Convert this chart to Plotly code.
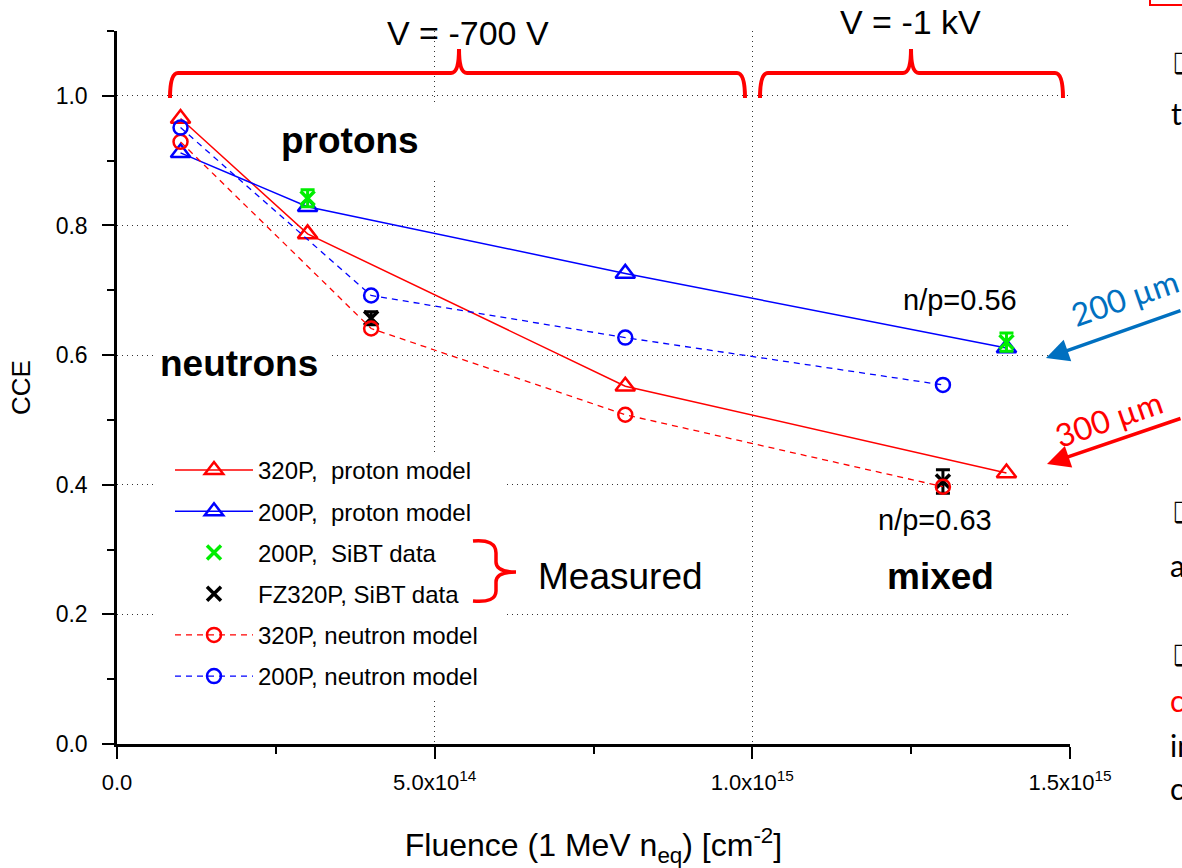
import plotly.graph_objects as go

# ---------------- data ----------------
fluence_proton = [1e14, 3e14, 8e14, 1.4e15]
cce_320p_proton = [0.965, 0.787, 0.552, 0.418]
cce_200p_proton = [0.912, 0.829, 0.726, 0.611]

fluence_neutron = [1e14, 4e14, 8e14, 1.3e15]
cce_320p_neutron = [0.929, 0.641, 0.508, 0.397]
cce_200p_neutron = [0.951, 0.692, 0.627, 0.554]

fluence_sibt_200 = [3e14, 1.4e15]
cce_sibt_200 = [0.842, 0.620]
err_sibt_200 = [0.013, 0.014]

fluence_sibt_320 = [4e14, 1.3e15]
cce_sibt_320 = [0.657, 0.405]
err_sibt_320 = [0.010, 0.018]

x_tickvals = [0, 5e14, 1e15, 1.5e15]
x_ticktext = ["0.0", "5.0x10<sup>14</sup>", "1.0x10<sup>15</sup>", "1.5x10<sup>15</sup>"]
y_tickvals = [0.0, 0.2, 0.4, 0.6, 0.8, 1.0]
y_ticktext = ["0.0", "0.2", "0.4", "0.6", "0.8", "1.0"]

# ---------------- geometry helpers ----------------
W, H = 1182, 868
L, R, T, B = 117, 1070, 31, 744
XMAX, YMAX = 1.5e15, 1.1


def dx(px):
    return (px - L) / (R - L) * XMAX


def dy(py):
    return (B - py) / (B - T) * YMAX


def ppx(px):
    return (px - L) / (R - L)


def ppy(py):
    return (B - py) / (B - T)


FONT = "Liberation Sans, Arial, sans-serif"
SLIDE = "Lato, Open Sans, sans-serif"
RED = "#ff0000"
BLUE = "#0000ff"
GREEN = "#00ee00"
SLIDE_BLUE = "#0070c0"

fig = go.Figure()

fig.add_trace(go.Scatter(
    x=fluence_proton, y=cce_320p_proton, mode="lines+markers",
    name="320P,  proton model", legendgroup="a",
    line=dict(color=RED, width=1.5),
    marker=dict(symbol="triangle-up-open", size=17, color=RED, line=dict(width=2.5, color=RED))))
fig.add_trace(go.Scatter(
    x=fluence_proton, y=cce_200p_proton, mode="lines+markers",
    name="200P,  proton model", legendgroup="b",
    line=dict(color=BLUE, width=1.5),
    marker=dict(symbol="triangle-up-open", size=17, color=BLUE, line=dict(width=2.5, color=BLUE))))
fig.add_trace(go.Scatter(
    x=fluence_sibt_200, y=cce_sibt_200, mode="markers",
    name="200P,  SiBT data", legendgroup="c",
    error_y=dict(type="data", array=err_sibt_200, color=GREEN, thickness=3, width=7),
    marker=dict(symbol="x-thin", size=14, color=GREEN, line=dict(width=3.5, color=GREEN))))
fig.add_trace(go.Scatter(
    x=fluence_sibt_320, y=cce_sibt_320, mode="markers",
    name="FZ320P, SiBT data", legendgroup="d",
    error_y=dict(type="data", array=err_sibt_320, color="black", thickness=3, width=7),
    marker=dict(symbol="x-thin", size=14, color="black", line=dict(width=3.5, color="black"))))
fig.add_trace(go.Scatter(
    x=fluence_neutron, y=cce_320p_neutron, mode="lines+markers",
    name="320P, neutron model", legendgroup="e",
    line=dict(color=RED, width=1.3, dash="6px,5px"),
    marker=dict(symbol="circle-open", size=14, color=RED, line=dict(width=2.5, color=RED))))
fig.add_trace(go.Scatter(
    x=fluence_neutron, y=cce_200p_neutron, mode="lines+markers",
    name="200P, neutron model", legendgroup="f",
    line=dict(color=BLUE, width=1.3, dash="6px,5px"),
    marker=dict(symbol="circle-open", size=14, color=BLUE, line=dict(width=2.5, color=BLUE))))


def brace_h(xl, xr, xm, yfoot=98, ybar=73, ytip=49, r=8):
    return (f"M {dx(xl)},{dy(yfoot)} Q {dx(xl)},{dy(ybar)} {dx(xl + r)},{dy(ybar)} "
            f"L {dx(xm - r)},{dy(ybar)} Q {dx(xm)},{dy(ybar)} {dx(xm)},{dy(ytip)} "
            f"Q {dx(xm)},{dy(ybar)} {dx(xm + r)},{dy(ybar)} "
            f"L {dx(xr - r)},{dy(ybar)} Q {dx(xr)},{dy(ybar)} {dx(xr)},{dy(yfoot)}")


measured_brace = (f"M {dx(473)},{dy(541)} Q {dx(496)},{dy(539)} {dx(496)},{dy(553)} "
                  f"L {dx(496)},{dy(562)} Q {dx(496)},{dy(572)} {dx(516)},{dy(572)} "
                  f"Q {dx(496)},{dy(572)} {dx(496)},{dy(582)} "
                  f"L {dx(496)},{dy(591)} Q {dx(496)},{dy(603)} {dx(473)},{dy(601)}")

shapes = [
    # white boxes behind labels / legend (hide gridlines like the original)
    dict(type="rect", xref="x", yref="y", x0=dx(157), x1=dx(503), y0=dy(452), y1=dy(700),
         fillcolor="white", line=dict(width=0), layer="between"),
    dict(type="rect", xref="x", yref="y", x0=dx(265), x1=dx(440), y0=dy(105), y1=dy(178),
         fillcolor="white", line=dict(width=0), layer="between"),
    dict(type="rect", xref="x", yref="y", x0=dx(155), x1=dx(330), y0=dy(338), y1=dy(392),
         fillcolor="white", line=dict(width=0), layer="between"),
    dict(type="path", xref="x", yref="y", path=brace_h(170, 745, 459),
         line=dict(color=RED, width=4)),
    dict(type="path", xref="x", yref="y", path=brace_h(760, 1063, 911),
         line=dict(color=RED, width=4)),
    dict(type="path", xref="x", yref="y", path=measured_brace,
         line=dict(color=RED, width=3.5)),
    # slide fragment: red frame at top right
    dict(type="rect", xref="paper", yref="paper", x0=ppx(1150), x1=ppx(1190), y0=ppy(5), y1=ppy(-10),
         line=dict(color=RED, width=2), fillcolor="rgba(0,0,0,0)"),
]


def ann(text, px, py, size, color="black", bold=False, family=FONT, xanchor="center", angle=0):
    return dict(text=f"<b>{text}</b>" if bold else text, x=ppx(px), y=ppy(py),
                xref="paper", yref="paper", showarrow=False, xanchor=xanchor, yanchor="middle",
                textangle=angle, font=dict(family=family, size=size, color=color))


annotations = [
    ann("V = -700 V", 468, 33, 34),
    ann("V = -1 kV", 910, 22, 34),
    ann("protons", 350, 140, 37, bold=True),
    ann("neutrons", 239, 363, 37, bold=True),
    ann("mixed", 940, 576, 37, bold=True),
    ann("n/p=0.56", 960, 300, 29),
    ann("n/p=0.63", 935, 520, 29),
    ann("Measured", 620, 576, 37),
    ann("200 µm", 1124, 297, 32, color=SLIDE_BLUE, family=SLIDE, angle=-19),
    ann("300 µm", 1108, 418, 32, color=RED, family=SLIDE, angle=-19),
    ann("❑", 1171, 63, 28, family="DejaVu Sans", xanchor="left"),
    ann("t", 1169, 113, 30, family=SLIDE, xanchor="left"),
    ann("❑", 1171, 512, 28, family="DejaVu Sans", xanchor="left"),
    ann("a", 1168, 565, 30, family=SLIDE, xanchor="left"),
    ann("❑", 1171, 655, 28, family="DejaVu Sans", xanchor="left"),
    ann("c", 1168, 700, 30, color=RED, family=SLIDE, xanchor="left"),
    ann("in", 1168, 745, 30, family=SLIDE, xanchor="left"),
    ann("c", 1168, 788, 30, family=SLIDE, xanchor="left"),
    # arrows
    dict(x=ppx(1046), y=ppy(358), xref="paper", yref="paper", text="", showarrow=True,
         ax=150, ay=-48, arrowhead=2, arrowsize=1.3, arrowwidth=3.5, arrowcolor=SLIDE_BLUE),
    dict(x=ppx(1047), y=ppy(464), xref="paper", yref="paper", text="", showarrow=True,
         ax=150, ay=-46, arrowhead=2, arrowsize=1.3, arrowwidth=3.5, arrowcolor=RED),
]

fig.update_layout(
    width=W, height=H,
    margin=dict(l=L, r=W - R, t=T, b=H - B, autoexpand=False),
    paper_bgcolor="white", plot_bgcolor="white",
    font=dict(family=FONT, color="black"),
    showlegend=True,
    legend=dict(x=ppx(170), y=ppy(448), xanchor="left", yanchor="top",
                bgcolor="rgba(0,0,0,0)", borderwidth=0,
                font=dict(family=FONT, size=24, color="black"),
                traceorder="grouped", tracegroupgap=7, itemwidth=78),
    shapes=shapes,
    annotations=annotations,
)

fig.update_xaxes(
    range=[0, XMAX], tickvals=x_tickvals, ticktext=x_ticktext,
    showline=True, linecolor="black", linewidth=3,
    ticks="outside", ticklen=12, tickwidth=2, tickcolor="black",
    ticklabelstandoff=5,
    tickfont=dict(family=FONT, size=22),
    minor=dict(dtick=2.5e14, ticks="outside", ticklen=7, tickwidth=2, tickcolor="black", showgrid=False),
    showgrid=True, gridcolor="#333333", gridwidth=1, griddash="1px,4px",
    zeroline=False,
    title=dict(text="Fluence (1 MeV n<sub>eq</sub>) [cm<sup>-2</sup>]",
               font=dict(family=FONT, size=32), standoff=42),
)
fig.update_yaxes(
    range=[0, YMAX], tickvals=y_tickvals, ticktext=y_ticktext,
    showline=True, linecolor="black", linewidth=2.5,
    ticks="outside", ticklen=12, tickwidth=2, tickcolor="black",
    ticklabelstandoff=10,
    tickfont=dict(family=FONT, size=23),
    minor=dict(dtick=0.1, ticks="outside", ticklen=7, tickwidth=2, tickcolor="black", showgrid=False),
    showgrid=True, gridcolor="#333333", gridwidth=1, griddash="1px,4px",
    zeroline=False,
    title=dict(text="CCE", font=dict(family=FONT, size=26), standoff=18),
)

fig.write_html("out.html")
